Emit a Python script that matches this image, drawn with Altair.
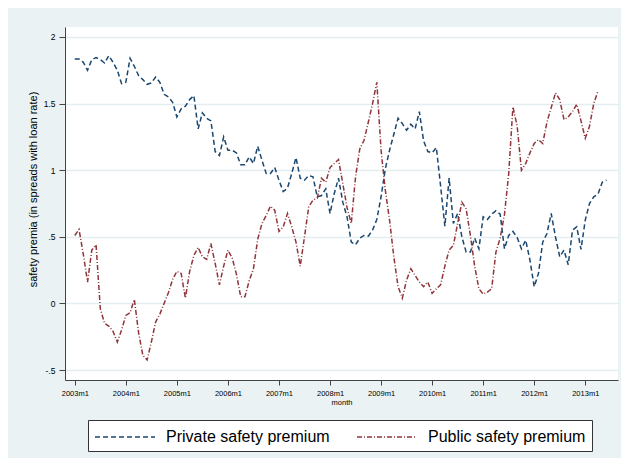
import altair as alt
import pandas as pd

# ---- data (monthly, starting 2003m1) ----
PRIVATE = [
    1.835, 1.835, 1.81, 1.75, 1.83, 1.845, 1.83, 1.805, 1.86, 1.81,
    1.75, 1.65, 1.66, 1.84, 1.78, 1.71, 1.68, 1.645, 1.655, 1.70,
    1.66, 1.57, 1.55, 1.51, 1.40, 1.46, 1.48, 1.53, 1.56, 1.31,
    1.43, 1.39, 1.37, 1.14, 1.11, 1.25, 1.15, 1.15, 1.13, 1.04,
    1.04, 1.10, 1.05, 1.18, 1.075, 0.975, 0.975, 1.02, 0.925, 0.84,
    0.865, 0.975, 1.095, 0.94, 0.925, 0.96, 0.95, 0.80, 0.81, 0.86,
    0.675, 0.825, 0.94, 0.76, 0.65, 0.46, 0.44, 0.49, 0.51, 0.505,
    0.55, 0.63, 0.80, 1.01, 1.15, 1.27, 1.39, 1.35, 1.30, 1.345,
    1.31, 1.44, 1.22, 1.14, 1.13, 1.17, 0.88, 0.58,
    0.94, 0.60, 0.675, 0.50, 0.385, 0.385, 0.49, 0.41, 0.65, 0.63,
    0.67, 0.695, 0.67, 0.41, 0.51, 0.54, 0.495, 0.41, 0.475, 0.325,
    0.125, 0.225, 0.46, 0.525, 0.675, 0.50, 0.35, 0.40, 0.29, 0.55,
    0.575, 0.405, 0.625, 0.75, 0.80, 0.82, 0.91, 0.925,
]
PUBLIC = [
    0.51, 0.555, 0.37, 0.16, 0.40, 0.44, -0.04, -0.15, -0.17, -0.21,
    -0.29, -0.20, -0.09, -0.07, 0.03, -0.22, -0.39, -0.425, -0.29, -0.14,
    -0.08, 0.00, 0.08, 0.18, 0.24, 0.225, 0.04, 0.24, 0.36, 0.42,
    0.35, 0.33, 0.45, 0.30, 0.14, 0.28, 0.40, 0.34, 0.22, 0.05,
    0.05, 0.17, 0.26, 0.48, 0.60, 0.66, 0.73, 0.70, 0.54, 0.575,
    0.675, 0.575, 0.46, 0.28, 0.50, 0.725, 0.775, 0.79, 0.94, 0.91,
    1.02, 1.05, 1.08, 0.90, 0.72, 0.60, 0.95, 1.16, 1.225, 1.36,
    1.50, 1.66, 1.15, 0.85, 0.625, 0.35, 0.125, 0.04, 0.175, 0.26,
    0.21, 0.16, 0.125, 0.16, 0.075, 0.11, 0.14, 0.28, 0.40, 0.435,
    0.60, 0.76, 0.71, 0.51, 0.28, 0.11, 0.07, 0.085, 0.11, 0.385,
    0.49, 0.665, 0.97, 1.475, 1.33, 1.00, 1.05, 1.13, 1.20, 1.23,
    1.20, 1.36, 1.47, 1.58, 1.53, 1.38, 1.40, 1.44, 1.495, 1.37,
    1.24, 1.33, 1.50, 1.595,
]
SERIES = ["Private safety premium", "Public safety premium"]
COLORS = ["#1A476F", "#90353B"]
DASHES = [[5, 3], [5, 2, 1, 2]]
XTICKS = [0, 12, 24, 36, 48, 60, 72, 84, 96, 108, 120]
XLABELS = ["2003m1", "2004m1", "2005m1", "2006m1", "2007m1", "2008m1",
           "2009m1", "2010m1", "2011m1", "2012m1", "2013m1"]
YTICKS = [-0.5, 0, 0.5, 1, 1.5, 2]
YLABELS = ["-.5", "0", ".5", "1", "1.5", "2"]

rows = []
for name, vals in zip(SERIES, [PRIVATE, PUBLIC]):
    for i, v in enumerate(vals):
        rows.append({"month": i, "value": v, "series": name})
df = pd.DataFrame(rows)


def label_expr(ticks, labels):
    expr = "''"
    for t, l in reversed(list(zip(ticks, labels))):
        expr = f"abs(datum.value - ({t})) < 1e-6 ? '{l}' : {expr}"
    return expr


FONT = "Liberation Sans"
legend = alt.Legend(
    title=None, orient="none", legendX=23, legendY=393,
    direction="horizontal", columns=2,
    # long horizontal line symbol (unit path scaled by sqrt(size)/2 = 10px)
    symbolType="M-1,0H5", symbolSize=400, symbolStrokeWidth=1.5,
    labelFont=FONT, labelFontSize=16, labelColor="black", labelOffset=50,
    labelLimit=400, columnPadding=24, padding=6,
    strokeColor="#333333", fillColor="white",
)

chart = alt.Chart(df).mark_line(strokeWidth=1.5, strokeCap="butt").encode(
    x=alt.X("month:Q",
            scale=alt.Scale(domain=[-2.3, 127.7], nice=False, zero=False),
            axis=alt.Axis(values=XTICKS, labelExpr=label_expr(XTICKS, XLABELS),
                          title="month", grid=False, tickSize=5, labelPadding=4,
                          labelFont=FONT, labelFontSize=7.5, labelColor="black",
                          titleFont=FONT, titleFontSize=7.5, titleFontWeight="normal",
                          titleColor="black", titlePadding=2,
                          domainColor="#444444", tickColor="#444444",
                          labelFlush=False)),
    y=alt.Y("value:Q",
            scale=alt.Scale(domain=[-0.575, 2.075], nice=False, zero=False),
            axis=alt.Axis(values=YTICKS, labelExpr=label_expr(YTICKS, YLABELS),
                          title="safety premia (in spreads with loan rate)",
                          grid=True, gridColor="#E4EDEF", gridWidth=1.5,
                          tickSize=6, labelPadding=4,
                          labelFont=FONT, labelFontSize=8.5, labelColor="black",
                          titleFont=FONT, titleFontSize=11, titleFontWeight="normal",
                          titleColor="black", titleAngle=270, titleAlign="center",
                          titleBaseline="middle", titleX=-32, titleY=162,
                          domainColor="#444444", tickColor="#444444",
                          labelFlush=False)),
    color=alt.Color("series:N", scale=alt.Scale(domain=SERIES, range=COLORS),
                    legend=legend),
    strokeDash=alt.StrokeDash("series:N", scale=alt.Scale(domain=SERIES, range=DASHES),
                              legend=legend),
).properties(
    width=553, height=353,
    background="#EAF2F3",
    padding={"left": 57, "top": 19, "right": 3, "bottom": 78},
    autosize=alt.AutoSizeParams(type="none"),
).configure_view(fill="white", strokeWidth=0)

chart.save("out.html", embed_options={"renderer": "svg", "actions": False})
